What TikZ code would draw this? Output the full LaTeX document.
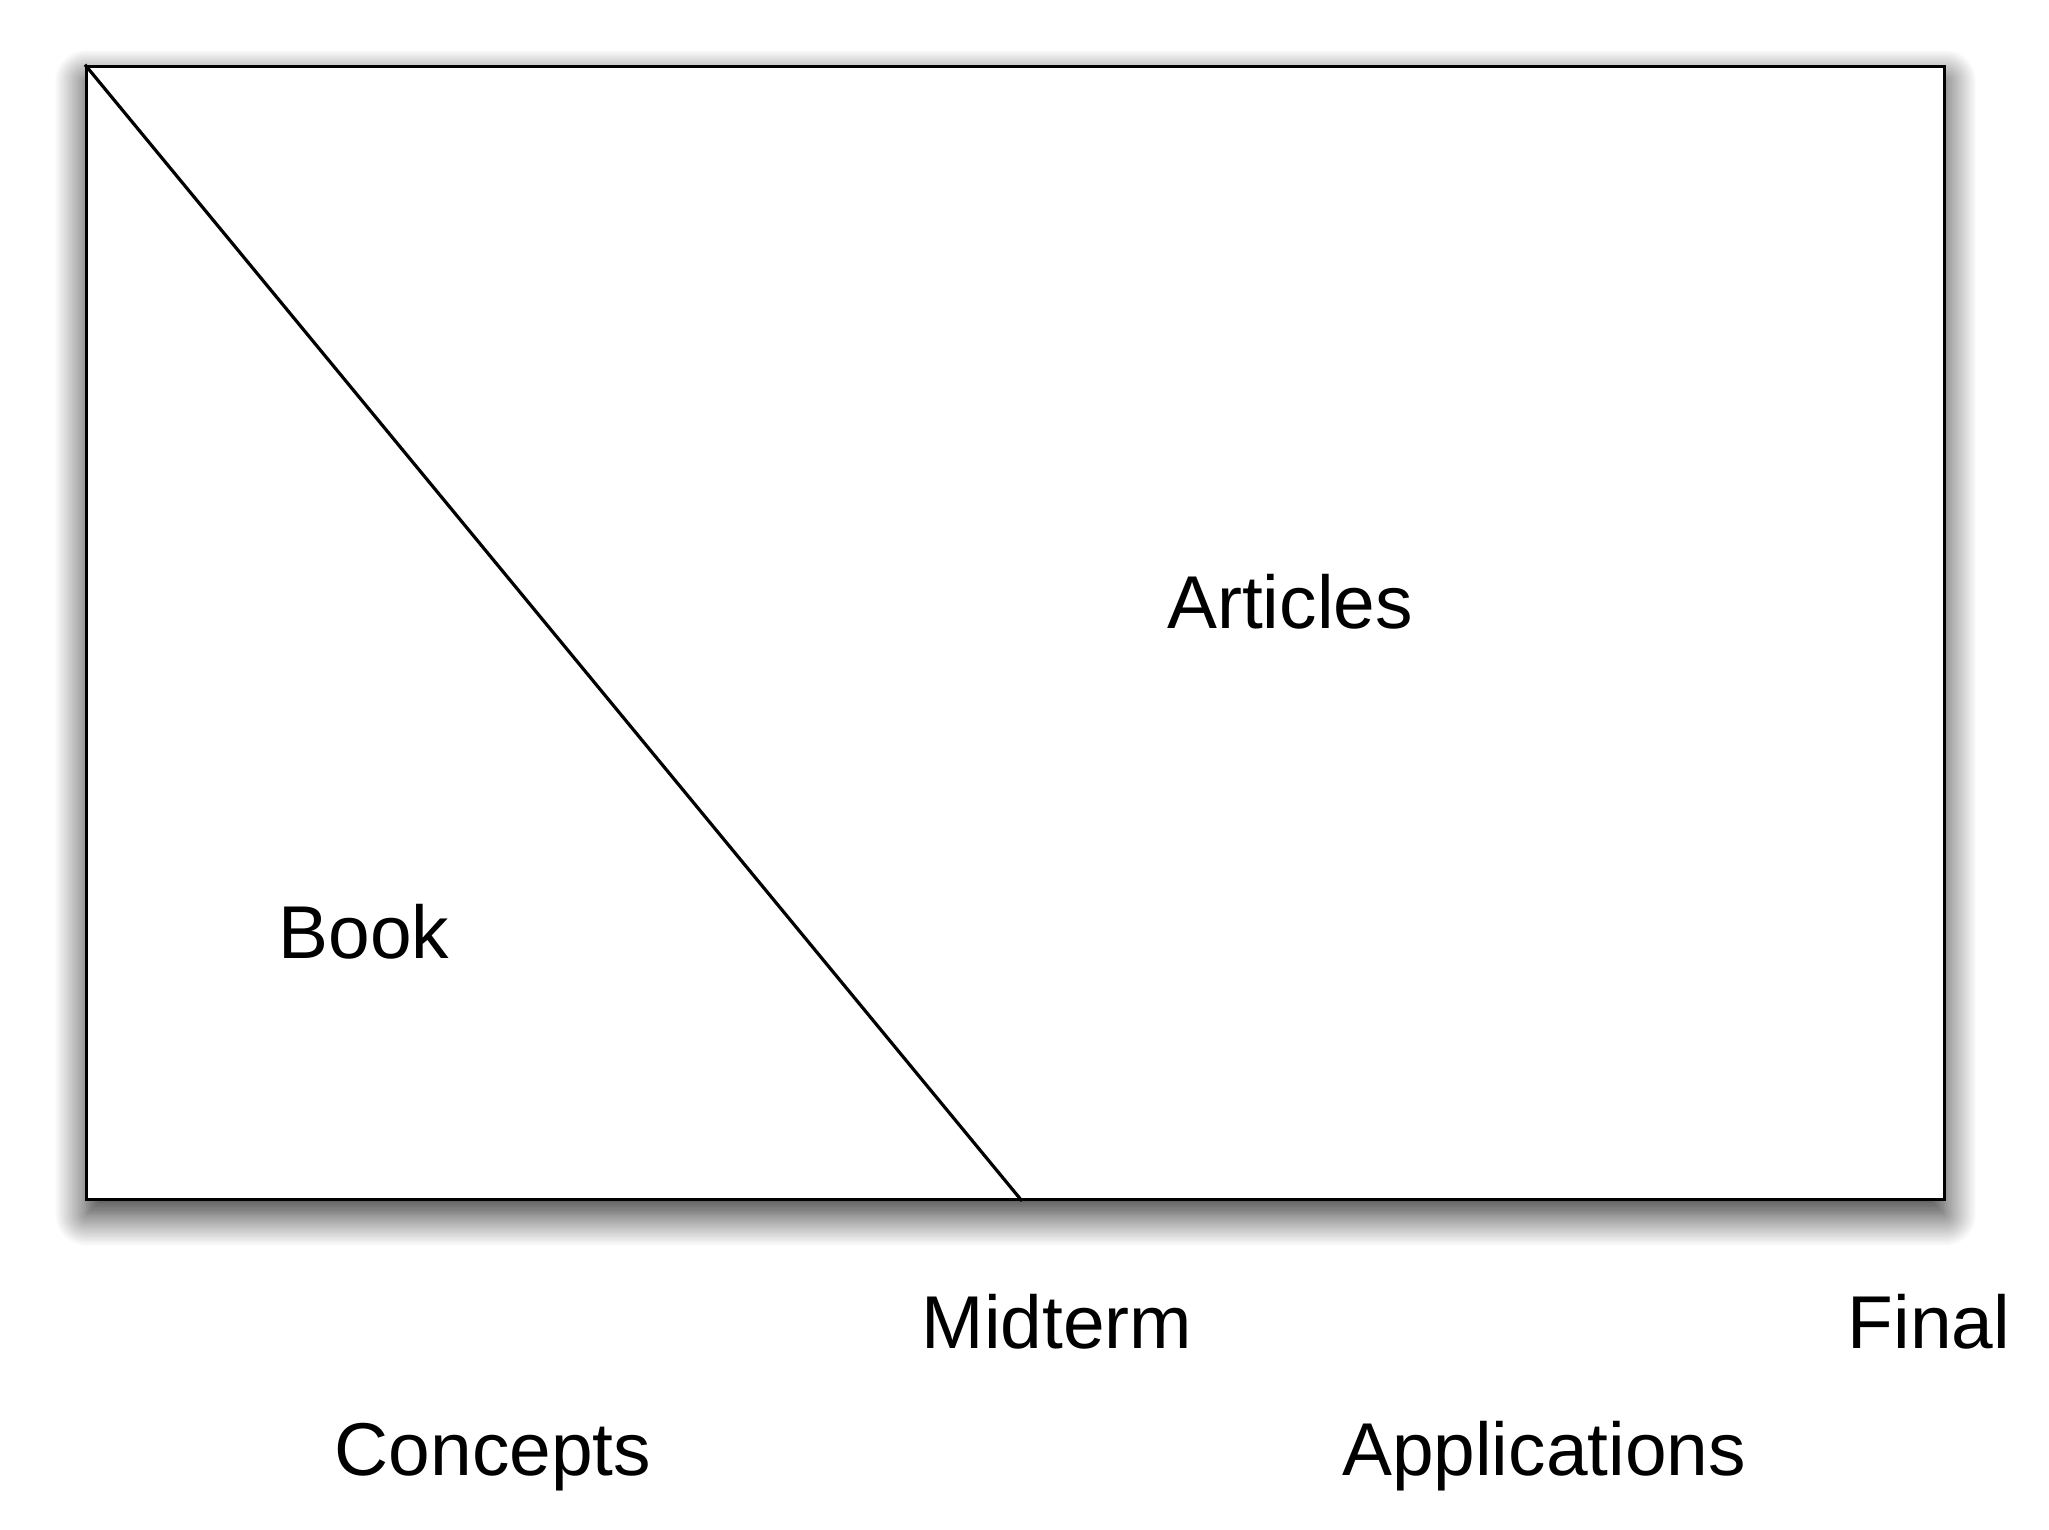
\documentclass[tikz,border=0pt]{standalone}
\usepackage{fontspec}
\setmainfont{Liberation Sans}
\usetikzlibrary{shadows.blur}

\tikzset{
  lbl/.style = {anchor = base, inner sep = 0pt,
    font = \fontsize{21.3pt}{25pt}\selectfont}
}

\begin{document}
\begin{tikzpicture}
  \pgfmathsetmacro{\bW}{18.58}
  \pgfmathsetmacro{\bH}{11.33}
  \pgfmathsetmacro{\xM}{10.22}

  \useasboundingbox (0, 0) rectangle (20.49, 15.29);

  \node[draw, fill = white, line width = 0.033cm, inner sep = 0pt,
  minimum width = \bW cm, minimum height = \bH cm, anchor = south west,
  blur shadow = {shadow xshift = 0cm, shadow yshift = -0.15cm,
    shadow blur radius = 0.32cm, shadow blur steps = 25,
    shadow opacity = 85}]
  (board) at (0.85, 3.28) {};

  \coordinate (split) at (\xM, 3.28);
  \draw[line width = 0.032cm] (board.north west) -- (split); %book part on the left

  \node[lbl] (articles) at (12.90, 9.00) {Articles};
  \node[lbl] (book) at (3.64, 5.70) {Book};
  \node[lbl] (midterm) at (10.57, 1.81) {Midterm};
  \node[lbl] (final) at (19.29, 1.81) {Final};
  \node[lbl] (concepts) at (4.93, 0.54) {Concepts};
  \node[lbl] (applications) at (15.44, 0.54) {Applications};
\end{tikzpicture}
\end{document}
